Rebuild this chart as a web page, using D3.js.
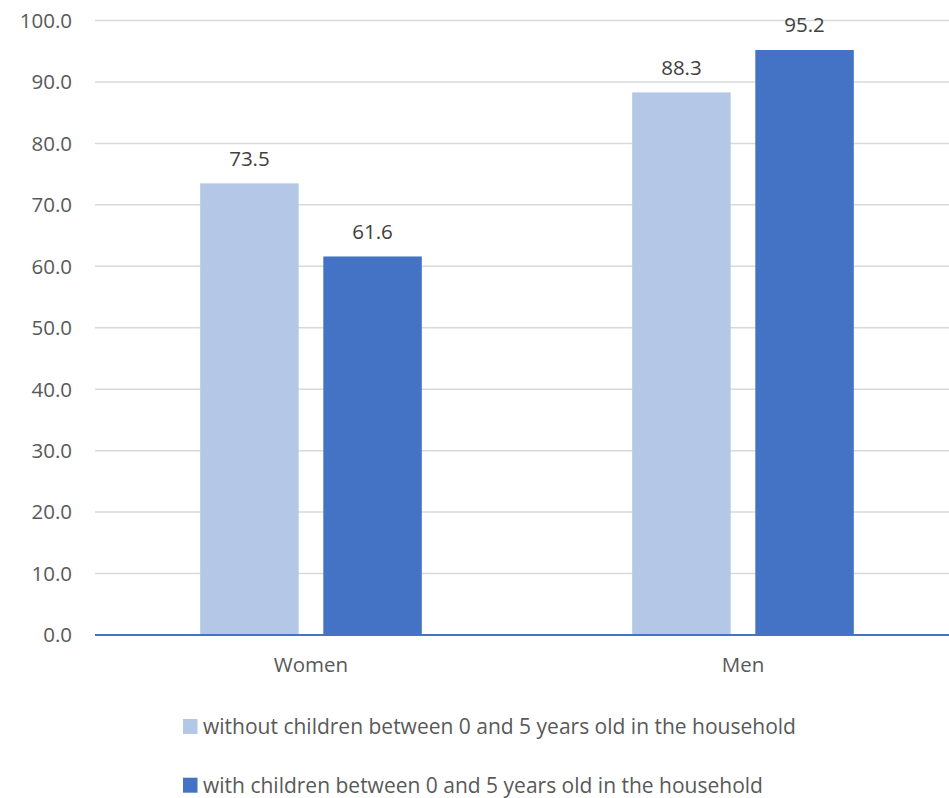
<!DOCTYPE html>
<html><head><meta charset="utf-8">
<script src="https://cdn.jsdelivr.net/npm/d3@7"></script>
<style>body{margin:0;background:#fff}svg{display:block}</style>
</head><body>
<svg id="c" width="949" height="798"></svg>
<script>
const categories = ["Women", "Men"];
const seriesNames = ["without children between 0 and 5 years old in the household", "with children between 0 and 5 years old in the household"];
const without05 = [73.5, 88.3];
const with05 = [61.6, 95.2];
const yTicks = [0, 10, 20, 30, 40, 50, 60, 70, 80, 90, 100];
const colors = ["#B4C7E7", "#4472C4"];

const svg = d3.select("#c");
const font = "'Open Sans', 'Noto Sans', sans-serif";
const fs = 20.5;
const plotLeft = 95, plotRight = 959, plotTop = 20.5, plotBottom = 635;

const y = d3.scaleLinear().domain([0, 100]).range([plotBottom, plotTop]);
const x0 = d3.scaleBand().domain(categories).range([plotLeft, plotRight]).paddingInner(0.487).paddingOuter(0.2435);
const x1 = d3.scaleBand().domain([0, 1]).range([0, x0.bandwidth()]).paddingInner(0.2).paddingOuter(0);

// gridlines
svg.append("g").selectAll("line").data(yTicks.filter(d => d > 0)).join("line")
  .attr("x1", plotLeft).attr("x2", plotRight)
  .attr("y1", d => y(d)).attr("y2", d => y(d))
  .attr("stroke", "#d9d9d9").attr("stroke-width", 1.5);

// y tick labels
svg.append("g").selectAll("text").data(yTicks).join("text")
  .attr("x", 72).attr("y", d => y(d)).attr("dy", "0.36em")
  .attr("text-anchor", "end").attr("font-family", font).attr("font-size", fs)
  .attr("fill", "#595959").text(d => d.toFixed(1));

const series = [without05, with05];
const g = svg.append("g");
series.forEach((vals, si) => {
  g.append("g").selectAll("rect").data(vals).join("rect")
    .attr("x", (d, i) => x0(categories[i]) + x1(si))
    .attr("y", d => y(d))
    .attr("width", x1.bandwidth())
    .attr("height", d => y(0) - y(d))
    .attr("fill", colors[si]);
  g.append("g").selectAll("text").data(vals).join("text")
    .attr("x", (d, i) => x0(categories[i]) + x1(si) + x1.bandwidth() / 2)
    .attr("y", d => y(d) - 17.5)
    .attr("text-anchor", "middle").attr("font-family", font).attr("font-size", fs)
    .attr("fill", "#404040").text(d => d.toFixed(1));
});

// axis line
svg.append("line").attr("x1", plotLeft).attr("x2", plotRight).attr("y1", y(0)).attr("y2", y(0))
  .attr("stroke", "#4472C4").attr("stroke-width", 2);

// category labels
svg.append("g").selectAll("text").data(categories).join("text")
  .attr("x", d => x0(d) + x0.bandwidth() / 2).attr("y", 672)
  .attr("text-anchor", "middle").attr("font-family", font).attr("font-size", fs)
  .attr("fill", "#595959").text(d => d);

// legend
const leg = svg.append("g").selectAll("g").data(seriesNames).join("g")
  .attr("transform", (d, i) => `translate(183,${734 + i * 58.7})`);
leg.append("rect").attr("x", 0).attr("y", -15).attr("width", 14.5).attr("height", 15)
  .attr("fill", (d, i) => colors[i]);
leg.append("text").attr("x", 20).attr("y", 0).attr("font-family", font).attr("font-size", 21)
  .attr("fill", "#595959").text(d => d);
</script>
</body></html>
